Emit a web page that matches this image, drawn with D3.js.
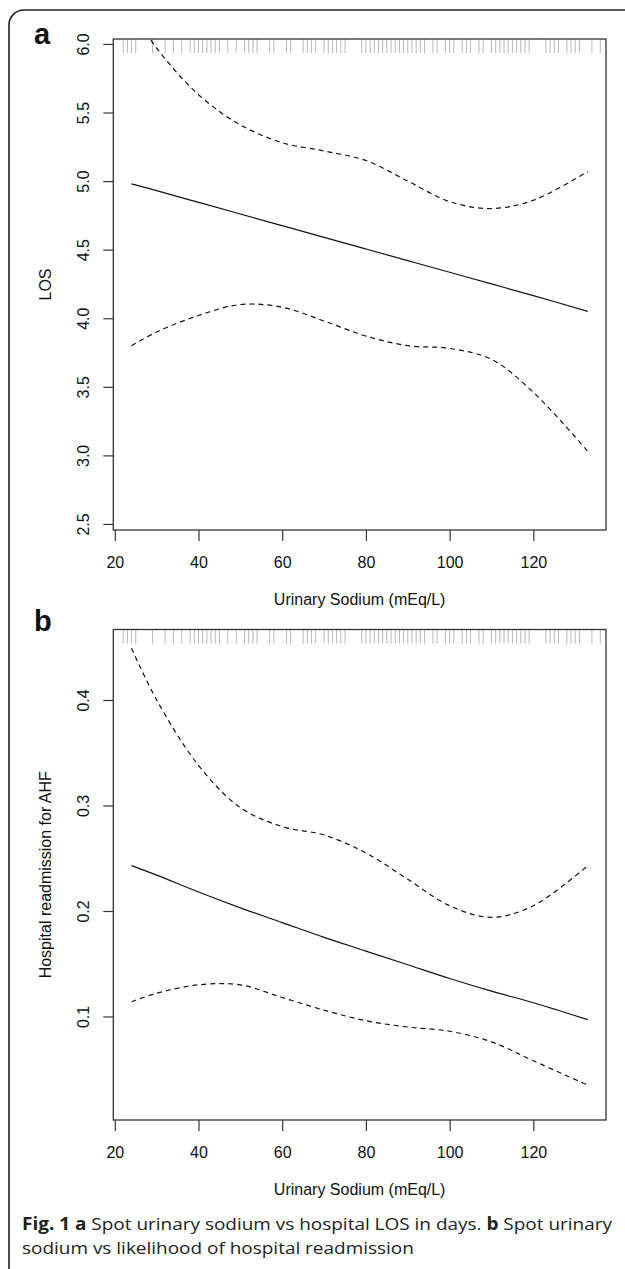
<!DOCTYPE html>
<html>
<head>
<meta charset="utf-8">
<script src="https://cdn.jsdelivr.net/npm/d3@7"></script>
<style>
  body { margin: 0; background: #fff; }
  svg text { font-family: "Liberation Sans", Arial, Helvetica, sans-serif; }
  svg text.caption { font-family: "Open Sans", "Noto Sans", sans-serif; }
</style>
</head>
<body>
<div id="chart"></div>
<script>
// x positions of the fitted curves (urinary sodium, mEq/L)
var xs = [24, 30, 40, 50, 60, 70, 80, 90, 100, 110, 120, 133]

// panel a : LOS
var losFit   = [4.98, 4.93, 4.845, 4.76, 4.675, 4.59, 4.505, 4.42, 4.335, 4.25, 4.165, 4.05]
var losUpper = [6.25, 5.97, 5.63, 5.41, 5.28, 5.22, 5.15, 5.00, 4.85, 4.80, 4.86, 5.07]
var losLower = [3.80, 3.90, 4.02, 4.10, 4.08, 3.98, 3.87, 3.80, 3.78, 3.70, 3.46, 3.03]

// panel b : readmission
var readFit   = [0.243, 0.234, 0.218, 0.203, 0.189, 0.175, 0.162, 0.149, 0.136, 0.124, 0.113, 0.097]
var readUpper = [0.449, 0.400, 0.338, 0.298, 0.280, 0.272, 0.255, 0.230, 0.205, 0.194, 0.205, 0.243]
var readLower = [0.114, 0.122, 0.130, 0.130, 0.118, 0.106, 0.096, 0.090, 0.086, 0.076, 0.058, 0.035]

// rug (raw sodium values)
var rugValues = [22, 23, 24, 25, 29, 32, 34, 36, 38, 39, 40, 41, 42, 43, 44, 45, 47, 49,
  51, 52, 53, 54, 57, 58, 61, 62, 65, 66, 67, 68, 70, 71, 72, 73, 74, 75,
  79, 80, 81, 82, 83, 84, 85, 86, 87, 88, 89, 90, 91, 92, 93, 94, 96, 97,
  99, 100, 101, 103, 104, 105, 107, 108, 110, 111, 112, 113, 114, 115, 116, 117, 118, 119,
  123, 124, 125, 126, 128, 129, 130, 131, 134, 136]

var xTicks = [20, 40, 60, 80, 100, 120]
var losTicks = [2.5, 3.0, 3.5, 4.0, 4.5, 5.0, 5.5, 6.0]
var readTicks = [0.1, 0.2, 0.3, 0.4]

var W = 625, H = 1269
var left = 113.3, right = 606

var svg = d3.select('#chart').append('svg')
  .attr('width', W).attr('height', H)

svg.append('rect').attr('width', W).attr('height', H).attr('fill', '#fff')

// outer frame
svg.append('rect')
  .attr('x', 9).attr('y', 10)
  .attr('width', 700).attr('height', 1275)
  .attr('rx', 15).attr('ry', 15)
  .attr('fill', 'none').attr('stroke', '#222').attr('stroke-width', 1.6)

var x = d3.scaleLinear().domain([19.64, 137.36]).range([left, right])

function panel(opt){
  var g = svg.append('g')
  var y = d3.scaleLinear().domain(opt.domain).range([opt.bottom, opt.top])

  var clipId = 'clip' + opt.letter
  svg.append('clipPath').attr('id', clipId)
    .append('rect')
    .attr('x', left).attr('y', opt.top)
    .attr('width', right - left).attr('height', opt.bottom - opt.top)

  // rug
  g.selectAll('.rug')
    .data(rugValues)
    .enter()
    .append('line')
    .attr('x1', function(d){ return x(d) })
    .attr('x2', function(d){ return x(d) })
    .attr('y1', opt.top)
    .attr('y2', opt.top + 14)
    .attr('stroke', '#b8b8b8')
    .attr('stroke-width', 1)

  var line = d3.line()
    .x(function(d){ return x(d[0]) })
    .y(function(d){ return y(d[1]) })
    .curve(d3.curveCatmullRom)

  var series = [
    {v: opt.fit, dash: null},
    {v: opt.upper, dash: '5,4'},
    {v: opt.lower, dash: '5,4'}
  ]
  g.append('g').attr('clip-path', 'url(#' + clipId + ')')
    .selectAll('path')
    .data(series)
    .enter()
    .append('path')
    .attr('d', function(s){ return line(xs.map(function(xv, i){ return [xv, s.v[i]] })) })
    .attr('fill', 'none')
    .attr('stroke', '#111')
    .attr('stroke-width', 1.2)
    .attr('stroke-dasharray', function(s){ return s.dash })

  // box
  g.append('rect')
    .attr('x', left).attr('y', opt.top)
    .attr('width', right - left).attr('height', opt.bottom - opt.top)
    .attr('fill', 'none').attr('stroke', '#333').attr('stroke-width', 1.3)

  // x axis
  var xa = g.append('g')
    .attr('transform', 'translate(0,' + opt.bottom + ')')
    .call(d3.axisBottom(x).tickValues(xTicks).tickSize(11).tickFormat(d3.format('d')))
  xa.select('.domain').remove()
  xa.selectAll('line').attr('stroke', '#333').attr('stroke-width', 1.2)
  xa.selectAll('text')
    .attr('y', 38).attr('dy', 0)
    .attr('fill', '#111').attr('font-size', 16)
    .style('font-family', '"Liberation Sans", Arial, sans-serif')

  // y axis
  var ya = g.append('g')
    .attr('transform', 'translate(' + left + ',0)')
    .call(d3.axisLeft(y).tickValues(opt.ticks).tickSize(10).tickFormat(d3.format(opt.fmt)))
  ya.select('.domain').remove()
  ya.selectAll('line').attr('stroke', '#333').attr('stroke-width', 1.2)
  ya.selectAll('text')
    .attr('x', 0).attr('dy', 0)
    .attr('transform', 'translate(-24,0) rotate(-90)')
    .attr('text-anchor', 'middle')
    .attr('fill', '#111').attr('font-size', 16)
    .style('font-family', '"Liberation Sans", Arial, sans-serif')

  // titles
  g.append('text')
    .attr('x', (left + right) / 2).attr('y', opt.bottom + 75)
    .attr('text-anchor', 'middle').attr('font-size', 16).attr('fill', '#111')
    .text('Urinary Sodium (mEq/L)')

  g.append('text')
    .attr('transform', 'translate(51,' + (opt.top + opt.bottom) / 2 + ') rotate(-90)')
    .attr('text-anchor', 'middle').attr('font-size', 16).attr('fill', '#111')
    .text(opt.ylabel)

  g.append('text')
    .attr('x', 34).attr('y', opt.letterY)
    .attr('font-size', 29).attr('font-weight', 'bold').attr('fill', '#111')
    .text(opt.letter)
}

panel({letter: 'a', letterY: 44, top: 39, bottom: 530, domain: [2.456, 6.036],
  ticks: losTicks, fmt: '.1f', ylabel: 'LOS',
  fit: losFit, upper: losUpper, lower: losLower})

panel({letter: 'b', letterY: 631, top: 629.5, bottom: 1120, domain: [0.0019, 0.4668],
  ticks: readTicks, fmt: '.1f', ylabel: 'Hospital readmission for AHF',
  fit: readFit, upper: readUpper, lower: readLower})

// caption
var l1 = svg.append('text').attr('class', 'caption')
  .attr('x', 22).attr('y', 1230).attr('font-size', 17).attr('fill', '#222')
l1.append('tspan').attr('font-weight', 'bold').text('Fig. 1 a')
l1.append('tspan').text(' Spot urinary sodium vs hospital LOS in days. ')
l1.append('tspan').attr('font-weight', 'bold').text('b')
l1.append('tspan').text(' Spot urinary')

var l2 = svg.append('text').attr('class', 'caption')
  .attr('x', 22).attr('y', 1253.5).attr('font-size', 17).attr('fill', '#222')
  .text('sodium vs likelihood of hospital readmission')

// stretch caption to the reference line length (source font is wider)
var w1 = l1.node().getComputedTextLength()
var w2 = l2.node().getComputedTextLength()
var k = 590 / w1
l1.attr('textLength', 590).attr('lengthAdjust', 'spacingAndGlyphs')
l2.attr('textLength', w2 * k).attr('lengthAdjust', 'spacingAndGlyphs')
</script>
</body>
</html>
